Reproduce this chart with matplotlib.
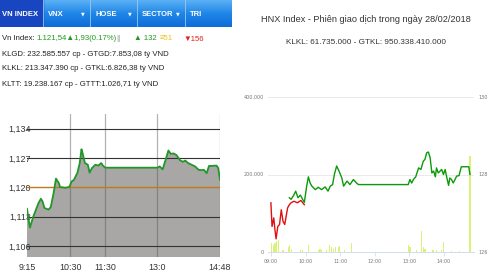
import numpy as np
import matplotlib
matplotlib.use('Agg')
import matplotlib.pyplot as plt
from matplotlib.colors import LinearSegmentedColormap

# ---- left panel: VN-Index intraday ----
vn_times = ["09:15", "09:20", "09:26", "09:35", "09:39", "09:42", "09:45", "09:52", "09:56",
            "10:01", "10:05", "10:10", "10:12", "10:21", "10:28", "10:32", "10:36", "10:42",
            "10:46", "10:49", "10:51", "10:55", "11:00", "11:03", "11:07", "11:13", "11:18",
            "11:23", "11:26", "11:30", "13:00", "13:04", "13:09", "13:14", "13:19", "13:23",
            "13:28", "13:33", "13:39", "13:44", "13:48", "13:53", "13:59", "14:05", "14:11",
            "14:16", "14:20", "14:25", "14:29", "14:42", "14:45", "14:48"]
vn_values = [1114.9, 1110.4, 1113.1, 1116.3, 1117.3, 1116.6, 1115.1, 1114.7, 1115.3,
             1118.7, 1122.1, 1121.0, 1120.1, 1119.9, 1120.1, 1121.4, 1121.8, 1123.5,
             1125.8, 1129.1, 1128.1, 1125.8, 1125.4, 1123.5, 1124.6, 1125.4, 1125.2,
             1125.8, 1125.2, 1124.7, 1124.7, 1125.0, 1124.3, 1126.5, 1128.8, 1128.0,
             1128.1, 1127.7, 1126.5, 1126.1, 1126.4, 1125.8, 1125.4, 1125.0, 1124.2,
             1124.1, 1124.2, 1123.4, 1125.1, 1125.2, 1124.6, 1121.8]
vn_ref = 1120
vn_yticks = [1106, 1113, 1120, 1127, 1134]
vn_ytick_labels = ["1,106", "1,113", "1,120", "1,127", "1,134"]
vn_xticks = ["09:15", "10:30", "11:30", "13:00", "14:48"]
vn_xtick_labels = ["9:15", "10:30", "11:30", "13:0", "14:48"]
tabs = ["VN INDEX", "VNX", "HOSE", "SECTOR", "TRI"]

# ---- right panel: HNX-Index intraday ----
hnx_red_times = ["09:00", "09:02", "09:05", "09:07", "09:09", "09:12", "09:15", "09:18", "09:21",
                 "09:24", "09:27", "09:29", "09:32", "09:35", "09:40", "09:46", "09:52", "09:58"]
hnx_red_values = [127.27, 126.66, 126.88, 126.58, 126.34, 126.66, 126.71, 127.09, 126.79,
                  126.71, 126.97, 127.14, 127.22, 127.27, 127.31, 127.27, 127.33, 127.22]
hnx_green_times = ["09:32", "09:35", "09:39", "09:43", "09:47", "09:51", "09:55", "09:58", "10:02",
                   "10:05", "10:08", "10:11", "10:17", "10:22", "10:28", "10:34", "10:39", "10:43",
                   "10:47", "10:50", "10:54", "10:58", "11:03", "11:06", "11:12", "11:17", "11:23",
                   "11:29", "11:32", "12:58", "13:01", "13:04", "13:07", "13:11", "13:16", "13:20",
                   "13:24", "13:27", "13:30", "13:33", "13:36", "13:39", "13:42", "13:45", "13:47",
                   "13:50", "13:56", "13:59", "14:02", "14:05", "14:08", "14:10", "14:13", "14:16",
                   "14:19", "14:22", "14:26", "14:30", "14:43", "14:45"]
hnx_green_values = [127.40, 127.36, 127.45, 127.57, 127.40, 127.47, 127.36, 127.28, 127.70,
                    127.94, 127.78, 127.70, 127.61, 127.67, 127.61, 127.68, 127.57, 127.70,
                    127.74, 128.00, 128.22, 128.09, 127.91, 127.70, 127.83, 127.74, 127.87,
                    127.77, 127.74, 127.74, 127.87, 127.78, 127.87, 127.94, 128.17, 128.13,
                    128.34, 128.39, 128.56, 128.58, 128.43, 128.04, 128.09, 127.94, 128.17,
                    128.04, 128.13, 128.00, 128.13, 127.91, 127.72, 127.91, 127.87, 127.78,
                    127.87, 127.96, 127.97, 128.20, 128.20, 128.00]
vol_times = ["09:01", "09:04", "09:07", "09:10", "09:13", "09:21", "09:30", "09:32", "09:36",
             "09:51", "09:55", "10:05", "10:22", "10:25", "10:28", "10:36", "10:42", "10:45",
             "10:48", "10:52", "10:57", "10:59", "11:08", "11:20", "12:58", "13:01", "13:12",
             "13:21", "13:24", "13:27", "13:41", "13:47", "13:56", "13:59", "14:13", "14:27",
             "14:45"]
vol_values = [23000, 19000, 23000, 28000, 30000, 6000, 12000, 19000, 8000,
              5000, 4000, 19000, 6000, 8000, 5000, 4000, 19000, 12000,
              8000, 12000, 14000, 15000, 5000, 22000, 19000, 12000, 6000,
              53000, 12000, 8000, 5000, 5000, 4000, 25000, 3000, 2000,
              247000]
hnx_title = "HNX Index - Phiên giao dịch trong ngày 28/02/2018"
hnx_sub = "KLKL: 61.735.000 - GTKL: 950.338.410.000"


def tmin(s):
    h, m = s.split(':')
    return int(h) * 60 + int(m)


W, H = 490, 276
fig = plt.figure(figsize=(W / 100, H / 100), dpi=100)
fnt = ['Liberation Sans', 'DejaVu Sans']


def box(x0, y0, x1, y1):
    # pixel box (top-left origin) -> figure fraction rect
    return [x0 / W, 1 - y1 / H, (x1 - x0) / W, (y1 - y0) / H]


# tab bar
tab = fig.add_axes(box(0, 0, 232, 27))
cmap = LinearSegmentedColormap.from_list('b', ['#5ab0f5', '#1f86e8', '#0f6cd8'])
tab.imshow(np.linspace(0, 1, 30).reshape(-1, 1), cmap=cmap, aspect='auto',
           extent=[0, 232, 27, 0])
tab.add_patch(plt.Rectangle((0, 0), 43, 27, color='#1846c0'))
tab_x = [2, 48, 95, 142, 190]
for i, t in enumerate(tabs):
    tab.text(tab_x[i], 14, t, color='white', fontsize=5.5, fontweight='bold',
             va='center', ha='left', family=fnt)
for sx in [43, 90, 137, 185]:
    tab.plot([sx, sx], [0, 27], color='#9cc8f0', lw=0.6)
for ax_ in [83, 130, 178]:
    tab.text(ax_, 14, '▼', color='white', fontsize=3.5, va='center', ha='center')
tab.set_xlim(0, 232)
tab.set_ylim(27, 0)
tab.axis('off')


# info text lines
def ftext(x, y, s, c='#222222', size=5.6, **kw):
    fig.text(x / W, 1 - y / H, s, color=c, fontsize=size, va='center', ha='left',
             family=fnt, **kw)


ftext(2, 39, "Vn Index:")
ftext(36, 39, "1.121,54▲1,93(0.17%)", c='#1f9a1f')
ftext(116, 39, "||", c='#888888')
ftext(134, 39, "▲ 132", c='#1f9a1f')
ftext(160, 39, "≡51", c='#f0c020')
ftext(183, 39, "▼156", c='#e02020')
ftext(2, 54, "KLGD: 232.585.557 cp - GTGD:7.853,08 tỷ VND")
ftext(2, 69, "KLKL: 213.347.390 cp - GTKL:6.826,38 tỷ VND")
ftext(2, 84, "KLTT: 19.238.167 cp - GTTT:1.026,71 tỷ VND")

# left chart
ax = fig.add_axes(box(27, 114, 220, 257))
vt = [tmin(t) for t in vn_times]
ax.fill_between(vt, vn_values, 1000, color='#a8a7a5', zorder=1, lw=0)
for t in vn_xticks[1:]:
    ax.axvline(tmin(t), color='#555555', alpha=0.45, lw=0.9, zorder=2)
for v in vn_yticks:
    if v != vn_ref:
        ax.axhline(v, color='#333333', lw=0.8, zorder=3)
ax.axhline(vn_ref, color='#c07a1a', lw=1.0, zorder=3)
ax.plot(vt, vn_values, color='#22962a', lw=1.3, zorder=4)
ax.set_xlim(tmin("09:15"), tmin("14:48"))
ax.set_ylim(1103.4, 1137.5)
ax.set_yticks(vn_yticks)
ax.set_yticklabels(vn_ytick_labels, family=fnt)
ax.set_xticks([tmin(t) for t in vn_xticks])
ax.set_xticklabels(vn_xtick_labels, family=fnt)
ax.tick_params(length=0, labelsize=6.4, colors='#333333')
ax.tick_params(axis='y', pad=-3)
ax.tick_params(axis='x', pad=4)
for s in ax.spines.values():
    s.set_visible(False)

# right chart
fig.text(366 / W, 1 - 20 / H, hnx_title, fontsize=6.6, color='#333333', ha='center',
         va='center', family=fnt)
fig.text(366 / W, 1 - 42 / H, hnx_sub, fontsize=5.9, color='#333333', ha='center',
         va='center', family=fnt)

t0 = tmin("09:00")
av = fig.add_axes(box(268, 97, 474, 252))
av.bar([tmin(t) - t0 for t in vol_times], vol_values, width=2.0, color='#d8f27a', lw=0)
av.set_ylim(0, 400000)
av.set_yticks([0, 200000, 400000])
av.set_yticklabels(["0", "200.000", "400.000"])
av.grid(axis='y', color='#e6e6e6', lw=0.6)
av.set_axisbelow(True)
av.set_xlim(-5, 352)
hours = ["09:00", "10:00", "11:00", "12:00", "13:00", "14:00"]
av.set_xticks([tmin(h) - t0 for h in hours])
av.set_xticklabels(hours)
av.tick_params(axis='y', length=0, labelsize=3.5, colors='#777777', pad=3)
av.tick_params(axis='x', length=3, width=0.5, color='#ccd6eb', labelsize=3.5,
               colors='#777777', pad=2)
for s in av.spines.values():
    s.set_visible(False)
av.spines['bottom'].set_visible(True)
av.spines['bottom'].set_color('#ccd6eb')
av.spines['bottom'].set_linewidth(0.6)

ap = av.twinx()
ap.plot([tmin(t) - t0 for t in hnx_red_times], hnx_red_values, color='#e01010', lw=1.0)
ap.plot([tmin(t) - t0 for t in hnx_green_times], hnx_green_values, color='#0a9a0a', lw=1.0)
ap.set_ylim(126, 130)
ap.set_yticks([126, 128, 130])
ap.tick_params(axis='y', length=0, labelsize=3.5, colors='#777777', pad=3)
for s in ap.spines.values():
    s.set_visible(False)

fig.savefig('out.png', dpi=100)
